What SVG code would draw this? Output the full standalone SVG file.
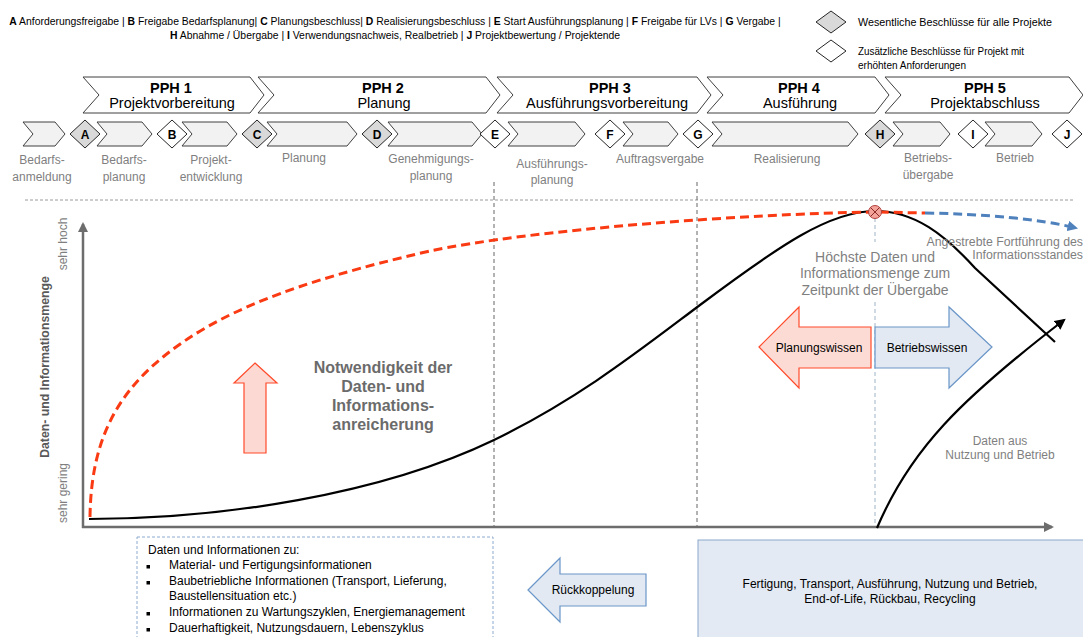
<svg xmlns="http://www.w3.org/2000/svg" width="1083" height="637" viewBox="0 0 1083 637">
<style>
text{font-family:"Liberation Sans",Arial,sans-serif}
.leg{font-size:11px;fill:#000}
.top{font-size:10.4px;fill:#000;text-anchor:middle}
.b{font-weight:bold}
.pph{fill:#fff;stroke:#404040;stroke-width:1}
.ph1{font-size:14.5px;font-weight:bold;fill:#000;text-anchor:middle}
.ph2{font-size:14.5px;fill:#000;text-anchor:middle}
.ch{fill:#f2f2f2;stroke:#404040;stroke-width:1}
.dg{fill:#d9d9d9;stroke:#262626;stroke-width:1}
.dw{fill:#fff;stroke:#262626;stroke-width:1}
.dl{font-size:12px;font-weight:bold;text-anchor:middle;fill:#000}
.lbl{font-size:12px;fill:#7f7f7f;text-anchor:middle}
.gtx{fill:#7f7f7f;text-anchor:middle}
.axis{stroke:#6d6d6d;stroke-width:2.5;fill:none}
.vd{stroke:#666;stroke-width:1;stroke-dasharray:4 3;fill:none}
.blk{font-size:12px;fill:#000}
</style>
<defs>
<marker id="ah" viewBox="0 0 10 10" refX="8" refY="5" markerWidth="4" markerHeight="4" orient="auto" markerUnits="strokeWidth"><path d="M0,0 L10,5 L0,10 z" fill="#6d6d6d"/></marker>
<marker id="bk" viewBox="0 0 10 10" refX="8" refY="5" markerWidth="5" markerHeight="5" orient="auto" markerUnits="strokeWidth"><path d="M0,0 L10,5 L0,10 z" fill="#000"/></marker>
<marker id="bl" viewBox="0 0 10 10" refX="8" refY="5" markerWidth="3.5" markerHeight="3.5" orient="auto" markerUnits="strokeWidth"><path d="M0,0 L10,5 L0,10 z" fill="#4f81bd"/></marker>
</defs>

<g id="legend">
<text class="top" x="395" y="25"><tspan class="b">A</tspan> Anforderungsfreigabe | <tspan class="b">B</tspan>  Freigabe Bedarfsplanung| <tspan class="b">C</tspan>  Planungsbeschluss| <tspan class="b">D</tspan>  Realisierungsbeschluss | <tspan class="b">E</tspan>  Start Ausführungsplanung | <tspan class="b">F</tspan>  Freigabe für LVs | <tspan class="b">G</tspan> Vergabe |</text>
<text class="top" x="395" y="39"><tspan class="b">H</tspan>  Abnahme / Übergabe | <tspan class="b">I</tspan>  Verwendungsnachweis, Realbetrieb | <tspan class="b">J</tspan>  Projektbewertung / Projektende</text>
<polygon class="dg" points="816,22 831,11 846,22 831,33"/>
<text class="leg" x="858" y="26" textLength="194" lengthAdjust="spacingAndGlyphs">Wesentliche Beschlüsse für alle Projekte</text>
<polygon class="dw" points="816,51 831,40 846,51 831,62"/>
<text class="leg" x="858" y="55" textLength="166" lengthAdjust="spacingAndGlyphs">Zusätzliche Beschlüsse für Projekt mit</text>
<text class="leg" x="858" y="69" textLength="108" lengthAdjust="spacingAndGlyphs">erhöhten Anforderungen</text>
</g>

<g id="pph1"><polygon class="pph" points="83,77 250,77 264,95 250,113 83,113 99,95"/><text class="ph1" x="171" y="93">PPH 1</text><text class="ph2" x="172" y="108">Projektvorbereitung</text></g>
<g id="pph2"><polygon class="pph" points="258,77 486,77 500,95 486,113 258,113 274,95"/><text class="ph1" x="383" y="93">PPH 2</text><text class="ph2" x="384" y="108">Planung</text></g>
<g id="pph3"><polygon class="pph" points="497,77 697,77 711,95 697,113 497,113 513,95"/><text class="ph1" x="610" y="93">PPH 3</text><text class="ph2" x="607" y="108">Ausführungsvorbereitung</text></g>
<g id="pph4"><polygon class="pph" points="707,77 875,77 889,95 875,113 707,113 723,95"/><text class="ph1" x="799" y="93">PPH 4</text><text class="ph2" x="800" y="108">Ausführung</text></g>
<g id="pph5"><polygon class="pph" points="885,77 1069,77 1083,95 1069,113 885,113 901,95"/><text class="ph1" x="985" y="93">PPH 5</text><text class="ph2" x="985" y="108">Projektabschluss</text></g>

<g id="step0"><polygon class="ch" points="23,122 55,122 65,134 55,146 23,146 33,134"/><text class="lbl" x="42" y="164">Bedarfs-</text><text class="lbl" x="42" y="181">anmeldung</text></g>
<g id="dA"><polygon class="dg" points="70,134 85,120 100,134 85,148"/><text class="dl" x="85" y="138.5">A</text></g>
<g id="step1"><polygon class="ch" points="97,122 142,122 152,134 142,146 97,146 107,134"/><text class="lbl" x="124" y="164">Bedarfs-</text><text class="lbl" x="124" y="181">planung</text></g>
<g id="dB"><polygon class="dw" points="157,134 172,120 187,134 172,148"/><text class="dl" x="172" y="138.5">B</text></g>
<g id="step2"><polygon class="ch" points="182,122 227,122 237,134 227,146 182,146 192,134"/><text class="lbl" x="211" y="164">Projekt-</text><text class="lbl" x="211" y="181">entwicklung</text></g>
<g id="dC"><polygon class="dg" points="242,134 257,120 272,134 257,148"/><text class="dl" x="257" y="138.5">C</text></g>
<g id="step3"><polygon class="ch" points="267,122 347,122 357,134 347,146 267,146 277,134"/><text class="lbl" x="304" y="162">Planung</text></g>
<g id="dD"><polygon class="dg" points="362,134 377,120 392,134 377,148"/><text class="dl" x="377" y="138.5">D</text></g>
<g id="step4"><polygon class="ch" points="388,122 472,122 482,134 472,146 388,146 398,134"/><text class="lbl" x="431" y="163">Genehmigungs-</text><text class="lbl" x="431" y="180">planung</text></g>
<g id="dE"><polygon class="dw" points="480,134 495,120 510,134 495,148"/><text class="dl" x="495" y="138.5">E</text></g>
<g id="step5"><polygon class="ch" points="508,122 575,122 585,134 575,146 508,146 518,134"/><text class="lbl" x="552" y="168">Ausführungs-</text><text class="lbl" x="552" y="184">planung</text></g>
<g id="dF"><polygon class="dw" points="595,134 610,120 625,134 610,148"/><text class="dl" x="610" y="138.5">F</text></g>
<g id="step6"><polygon class="ch" points="623,122 668,122 678,134 668,146 623,146 633,134"/><text class="lbl" x="660" y="163">Auftragsvergabe</text></g>
<g id="dG"><polygon class="dw" points="683,134 698,120 713,134 698,148"/><text class="dl" x="698" y="138.5">G</text></g>
<g id="step7"><polygon class="ch" points="712,122 848,122 858,134 848,146 712,146 722,134"/><text class="lbl" x="787" y="163">Realisierung</text></g>
<g id="dH"><polygon class="dg" points="865,134 880,120 895,134 880,148"/><text class="dl" x="880" y="138.5">H</text></g>
<g id="step8"><polygon class="ch" points="893,122 940,122 950,134 940,146 893,146 903,134"/><text class="lbl" x="928" y="162">Betriebs-</text><text class="lbl" x="928" y="179">übergabe</text></g>
<g id="dI"><polygon class="dw" points="958,134 973,120 988,134 973,148"/><text class="dl" x="973" y="138.5">I</text></g>
<g id="step9"><polygon class="ch" points="985,122 1032,122 1042,134 1032,146 985,146 995,134"/><text class="lbl" x="1015" y="162">Betrieb</text></g>
<g id="dJ"><polygon class="dw" points="1052,134 1067,120 1082,134 1067,148"/><text class="dl" x="1067" y="138.5">J</text></g>

<g id="chart">
<line x1="25" y1="200" x2="1075" y2="200" stroke="#9a9a9a" stroke-width="1" stroke-dasharray="3 2"/>
<line class="vd" x1="494" y1="182" x2="494" y2="526"/>
<line class="vd" x1="697" y1="182" x2="697" y2="526"/>
<line x1="875" y1="218" x2="875" y2="242" stroke="#9fb4c7" stroke-width="1" stroke-dasharray="4 3"/>
<line x1="875" y1="302" x2="875" y2="527" stroke="#9fb4c7" stroke-width="1" stroke-dasharray="4 3"/>
<line class="axis" x1="83" y1="528" x2="83" y2="224" marker-end="url(#ah)"/>
<line class="axis" x1="82" y1="527" x2="1052" y2="527" marker-end="url(#ah)"/>
<text class="gtx" font-size="12" transform="translate(67,244) rotate(-90)">sehr hoch</text>
<text class="gtx" font-size="12" transform="translate(67,493) rotate(-90)">sehr gering</text>
<text font-size="12.3" font-weight="bold" fill="#595959" text-anchor="middle" transform="translate(49,367) rotate(-90)">Daten- und Informationsmenge</text>
</g>

<g id="connectors">
<path d="M89,519 C220,519 380,495 494,440 C580,398 640,350 700,305 C780,245 830,211 875,211 C915,211 945,235 975,268 L1055,342" fill="none" stroke="#000" stroke-width="2.2"/>
<path d="M90,517 C91,450 110,400 163,357 S290,283 430,251 C530,230 740,214 875,212 L925,213" fill="none" stroke="#fa3a12" stroke-width="3" stroke-dasharray="9 5"/>
<path d="M925,213 C985,214 1040,219 1076,228" fill="none" stroke="#4f81bd" stroke-width="3" stroke-dasharray="9 5" marker-end="url(#bl)"/>
<path d="M877,528 C910,450 960,400 1064,320" fill="none" stroke="#000" stroke-width="2.2" marker-end="url(#bk)"/>
</g>

<g id="peak">
<circle cx="875" cy="212" r="6.5" fill="#f4a39b" stroke="#b0403a" stroke-width="1"/>
<path d="M870.5,207.5 L879.5,216.5 M879.5,207.5 L870.5,216.5" stroke="#8a2a25" stroke-width="1"/>
</g>

<g id="upArrow">
<polygon points="255,363 277,383 266,383 266,453 244,453 244,383 234,383" fill="#fcd9d2" stroke="#ff4b2b" stroke-width="1.2"/>
</g>
<g id="necessity">
<text font-size="16" font-weight="bold" fill="#6b6b6b" text-anchor="middle"><tspan x="383" y="373">Notwendigkeit der</tspan><tspan x="383" y="392">Daten- und</tspan><tspan x="383" y="411">Informations-</tspan><tspan x="383" y="430">anreicherung</tspan></text>
</g>

<g id="peakText">
<text class="gtx" font-size="14"><tspan x="875" y="262">Höchste Daten und</tspan><tspan x="875" y="278">Informationsmenge zum</tspan><tspan x="875" y="295">Zeitpunkt der Übergabe</tspan></text>
</g>
<g id="futureText">
<text font-size="12.3" fill="#7f7f7f" text-anchor="end"><tspan x="1083" y="246">Angestrebte Fortführung des</tspan><tspan x="1083" y="259">Informationsstandes</tspan></text>
</g>

<g id="planungswissen">
<polygon points="759,347 799,307 799,327 871,327 871,368 799,368 799,388" fill="#fcdbd5" stroke="#ff4b2b" stroke-width="1.2"/>
<text class="blk" font-size="12.5" x="819" y="352" text-anchor="middle">Planungswissen</text>
</g>
<g id="betriebswissen">
<polygon points="875,327 949,327 949,307 992,347 949,388 949,368 875,368" fill="#e2e9f3" stroke="#6a96c8" stroke-width="1.2"/>
<text class="blk" font-size="12.5" x="927" y="352" text-anchor="middle">Betriebswissen</text>
</g>

<g id="nutzung">
<text class="gtx" font-size="12"><tspan x="1000" y="445">Daten aus</tspan><tspan x="1000" y="459">Nutzung und Betrieb</tspan></text>
</g>

<g id="infoBox">
<rect x="137" y="537" width="356" height="110" fill="#fff" stroke="#8eaad0" stroke-width="1" stroke-dasharray="3 2"/>
<text class="blk" x="148" y="554">Daten und Informationen zu:</text>
<g fill="#000"><rect x="146.5" y="565" width="3.5" height="3.5"/><rect x="146.5" y="581" width="3.5" height="3.5"/><rect x="146.5" y="612" width="3.5" height="3.5"/><rect x="146.5" y="628" width="3.5" height="3.5"/></g>
<text class="blk"><tspan x="169" y="569">Material- und Fertigungsinformationen</tspan><tspan x="169" y="585">Baubetriebliche Informationen (Transport, Lieferung,</tspan><tspan x="169" y="600">Baustellensituation etc.)</tspan><tspan x="169" y="616">Informationen zu Wartungszyklen, Energiemanagement</tspan><tspan x="169" y="632">Dauerhaftigkeit, Nutzungsdauern, Lebenszyklus</tspan></text>
</g>

<g id="rueckkopplung">
<polygon points="528,590 560,558 560,574 646,574 646,606 560,606 560,622" fill="#e2e9f3" stroke="#6a96c8" stroke-width="1.2"/>
<text class="blk" x="593" y="594" text-anchor="middle">Rückkoppelung</text>
</g>

<g id="lifecycleBox">
<rect x="698" y="540" width="400" height="110" fill="#e3eaf3" stroke="#8aa8cc" stroke-width="1"/>
<text class="blk" text-anchor="middle"><tspan x="890" y="588">Fertigung, Transport, Ausführung, Nutzung und Betrieb,</tspan><tspan x="890" y="603">End-of-Life, Rückbau, Recycling</tspan></text>
</g>
</svg>
